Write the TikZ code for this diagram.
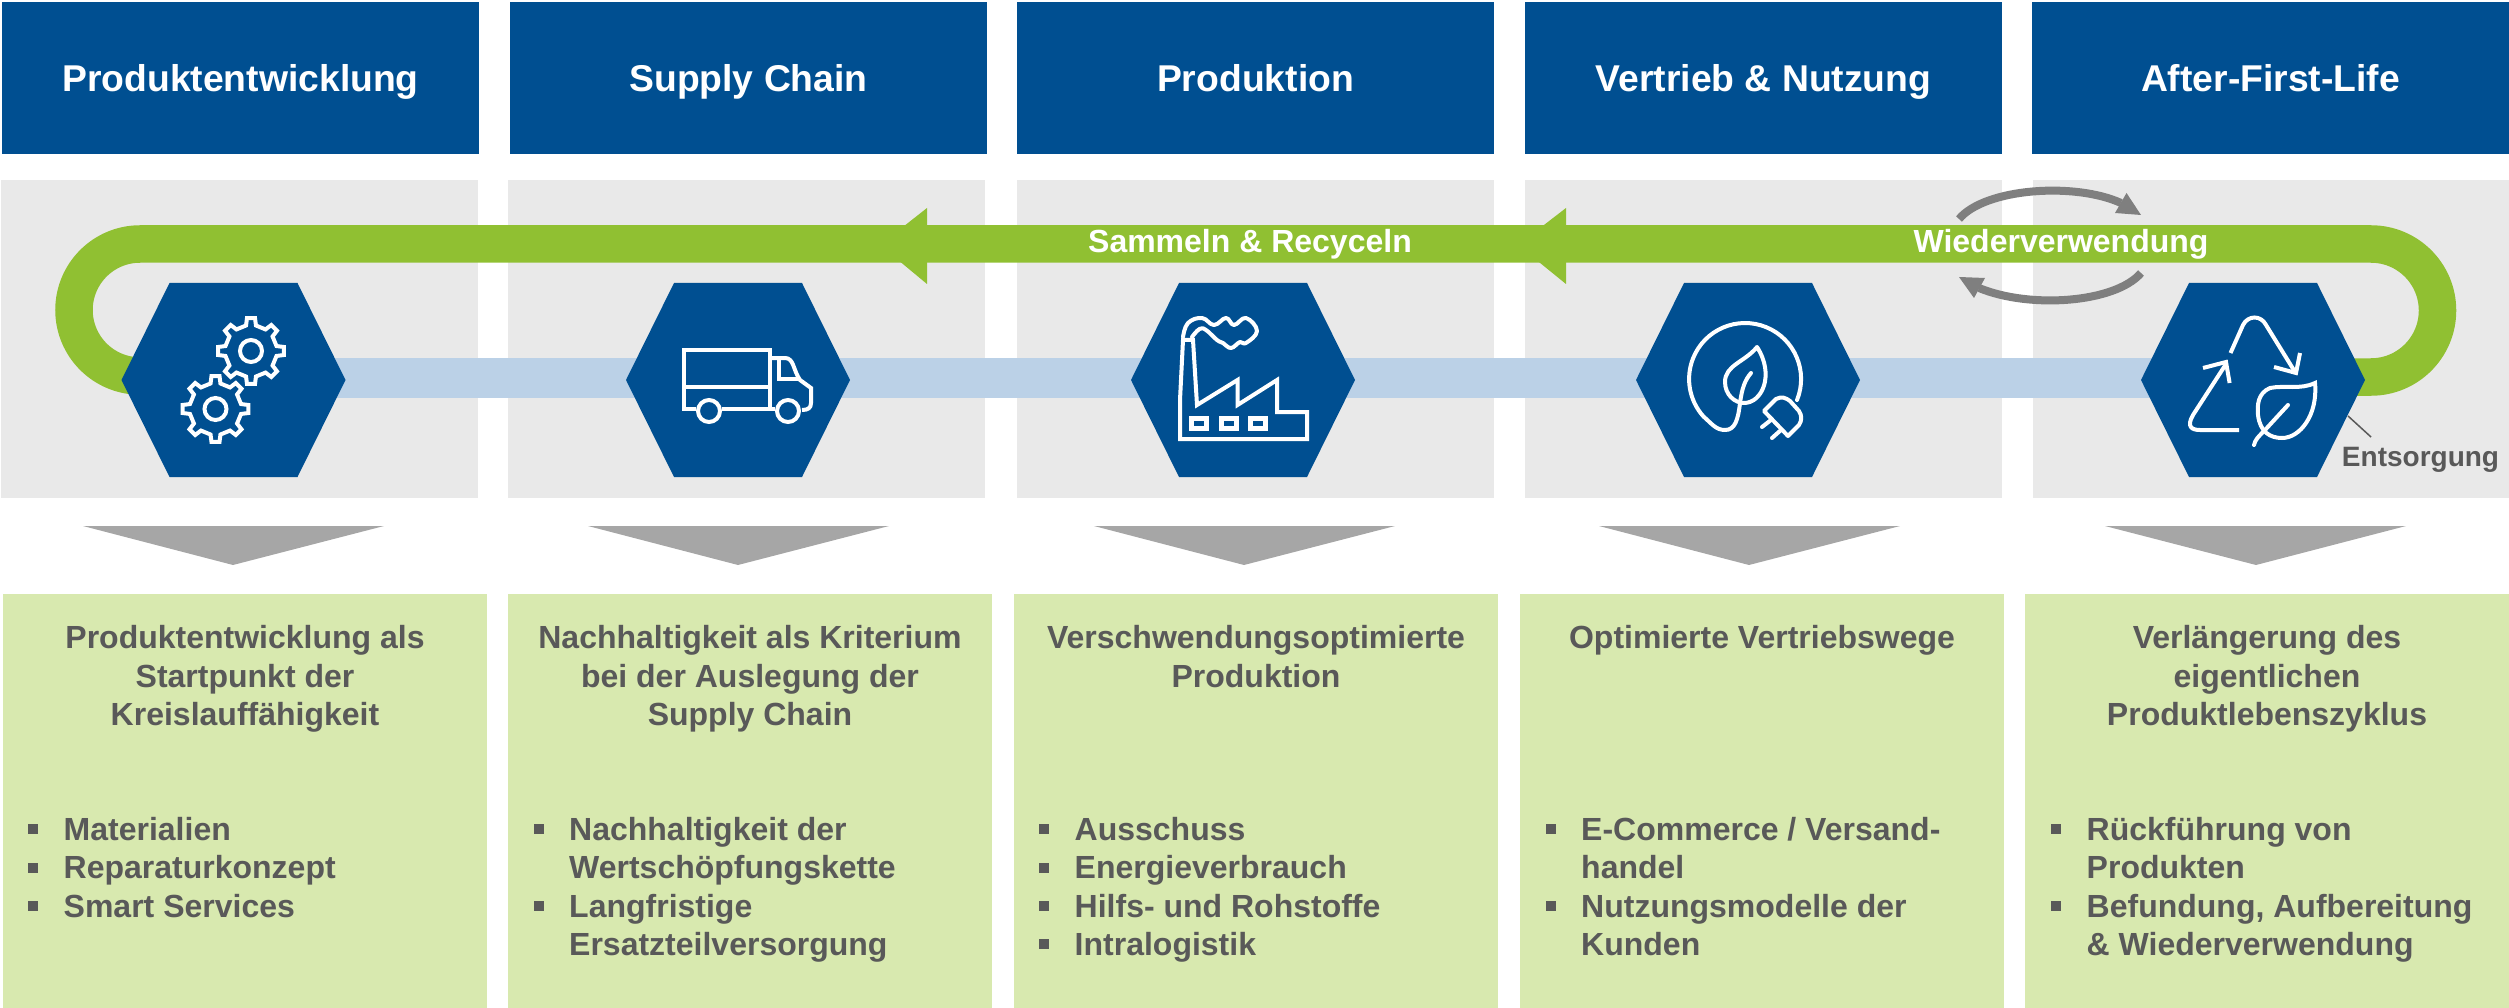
\documentclass[tikz,border=0pt]{standalone}
\usepackage{fontspec}
\setmainfont{Liberation Sans}
\usetikzlibrary{calc}
\definecolor{hblue}{HTML}{004F91}
\definecolor{hgreen}{HTML}{90C032}
\definecolor{lblue}{HTML}{BBD1E7}
\definecolor{pgrey}{HTML}{E9E9E9}
\definecolor{pgreen}{HTML}{D8E9AF}
\definecolor{dgrey}{HTML}{A6A6A6}
\definecolor{rgrey}{HTML}{7F7F7F}
\definecolor{txtgrey}{HTML}{595959}
\tikzset{
  headbox/.style={fill=hblue,text=white,inner sep=0pt,minimum width=477pt,minimum height=152pt,
    text height=28pt,text depth=0pt,font=\fontsize{37.3}{44}\selectfont\bfseries},
  panelbox/.style={fill=pgrey,inner sep=0pt},
  textbox/.style={fill=pgreen,inner sep=0pt},
  hexfill/.style={fill=hblue},
  downarrow/.style={fill=dgrey},
  headline/.style={inner sep=0pt,anchor=north,align=center,text=txtgrey,
    font=\fontsize{32}{38.4}\selectfont\bfseries},
  listtext/.style={inner sep=0pt,anchor=north west,align=left,text=txtgrey,
    font=\fontsize{32}{38.4}\selectfont\bfseries},
  bandlabel/.style={inner sep=0pt,text=white,font=\fontsize{32}{38}\selectfont\bfseries},
  iconline/.style={draw=white,line width=4pt,line join=miter},
  roundicon/.style={draw=white,line width=4pt,line join=round,line cap=round},
  rotshaft/.style={draw=rgrey,line width=8pt},
  rothead/.style={fill=rgrey},
}
\newcommand{\fl}{\leavevmode\rule{0pt}{30pt}}
\newcommand{\bul}{\leavevmode\rule{0pt}{30pt}\llap{\textcolor{txtgrey}{\rule[6pt]{10pt}{10pt}}\hspace{25.5pt}}}
\newcommand{\gearicon}[2]{%
  \begin{scope}[shift={(#1,#2)}]
    \draw[iconline] (0,0) circle[radius=11];
    \draw[iconline] (-11:26) \foreach \a in {0,45,...,315} { -- (\a-11:26) -- (\a-7:33) -- (\a+7:33) -- (\a+11:26) } -- cycle;
  \end{scope}}
\newcommand{\hexagon}[1]{%
  \fill[hexfill] ($(#1)+(-112,0)$) -- ($(#1)+(-64,-97)$) -- ($(#1)+(64,-97)$) -- ($(#1)+(112,0)$) -- ($(#1)+(64,97)$) -- ($(#1)+(-64,97)$) -- cycle;}
\newcommand{\downtri}[3]{\fill[downarrow] (#1,526) -- (#2,526) -- (#3,565) -- cycle;}
\begin{document}
\begin{tikzpicture}[x=1pt,y=-1pt]
\useasboundingbox (0,0) rectangle (2509,1008);
% headers
\node[headbox] (t1) at (240.5,78) {Produktentwicklung};
\node[headbox] (t2) at (748.5,78) {Supply Chain};
\node[headbox] (t3) at (1255.5,78) {Produktion};
\node[headbox] (t4) at (1763.5,78) {Vertrieb \& Nutzung};
\node[headbox] (t5) at (2270.5,78) {After-First-Life};
% grey panels
\fill[panelbox] (1,180) rectangle (478,498);
\fill[panelbox] (508,180) rectangle (985,498);
\fill[panelbox] (1017,180) rectangle (1494,498);
\fill[panelbox] (1525,180) rectangle (2002,498);
\fill[panelbox] (2033,180) rectangle (2509,498);
% hex centres
\coordinate (h1) at (233.5,380);
\coordinate (h2) at (738,380);
\coordinate (h3) at (1243,380);
\coordinate (h4) at (1748,380);
\coordinate (h5) at (2253,380);
% blue band
\coordinate (ba) at (233.5,378);
\coordinate (bb) at (2253,378);
\draw[lblue,line width=40pt] (ba) -- (bb);
% green loop
\coordinate (gs) at (233.5,376);
\coordinate (ge) at (2253,377);
\draw[hgreen,line width=37.5pt] (gs) -- (140,376) arc[start angle=90,end angle=270,radius=66] -- (2371,244) arc[start angle=270,end angle=450,radius=66.5] -- (ge);
\fill[hgreen] (927,208) -- (927,284) -- (880,245) -- cycle;
\fill[hgreen] (1566,208) -- (1566,284) -- (1518,245) -- cycle;
\node[bandlabel] (sr) at (1250,244) {Sammeln \& Recyceln};
\node[bandlabel] (ww) at (2061,244) {Wiederverwendung};
% rotation arrows
\draw[rotshaft] (1959,219) .. controls (1985,188) and (2075,182) .. (2121,203);
\fill[rothead] (2141,215) -- (2126.5,193) -- (2115,213) -- cycle;
\draw[rotshaft] (2141,273) .. controls (2115,303) and (2030,309) .. (1979,288);
\fill[rothead] (1959,277) -- (1985,278) -- (1974,298) -- cycle;
% hexagons
\hexagon{h1}\hexagon{h2}\hexagon{h3}\hexagon{h4}\hexagon{h5}
% gears
\gearicon{251}{351}
\gearicon{215.5}{409}
% truck
\draw[iconline] (696,409) -- (684,409) -- (684,350) -- (770,350) -- (770,409);
\draw[iconline] (684,387) -- (770,387);
\draw[iconline] (722,409) -- (775,409);
\draw[iconline] (709,411) circle[radius=11];
\draw[iconline] (788,411) circle[radius=11];
\draw[iconline] (770,358) -- (785,358) .. controls (794,358) and (793,370) .. (800,380) -- (811,388) -- (811,403) .. controls (811,408) and (808,410) .. (802,410);
\draw[iconline] (779,358) -- (779,379) -- (798,379);
% factory
\draw[iconline] (1180,439) -- (1307,439) -- (1307,412) -- (1277,412) -- (1277,380) -- (1237.5,405) -- (1237.5,380) -- (1197,405) -- (1193,340) -- (1183,340) -- (1180,400) -- cycle;
\draw[draw=white,line width=5pt] (1191,418) rectangle (1206,428);
\draw[draw=white,line width=5pt] (1221,418) rectangle (1236,428);
\draw[draw=white,line width=5pt] (1250.5,418) rectangle (1265.5,428);
\draw[roundicon] plot[smooth,tension=0.7] coordinates {(1183,337) (1188,323) (1202,318) (1214,325) (1226,318) (1234,325) (1246,318) (1257,331) (1246,343) (1240,342) (1231,348) (1223,343) (1217,340) (1206,330) (1199.5,329) (1192,337)};
% plug leaf
\draw[roundicon] (1797,400) arc[start angle=22,end angle=-222,radius=56] .. controls (1712,424) and (1716,430) .. (1725,430) .. controls (1735,430) and (1738,420) .. (1740,403) .. controls (1742,388) and (1745,380) .. (1751,373);
\draw[roundicon] (1757,347) .. controls (1745,362) and (1725,365) .. (1725,382) .. controls (1725,395) and (1735,403) .. (1744,403) .. controls (1762,403) and (1775,375) .. (1757,347) -- cycle;
\draw[roundicon] (1764,411) -- (1776,399) .. controls (1782,396) and (1786,398) .. (1790,401) -- (1799,411) .. controls (1802,416) and (1802,420) .. (1799,425) -- (1788,436) -- cycle;
\draw[roundicon] (1771,420) -- (1762,427);
\draw[roundicon] (1781,430) -- (1772,438);
% recycle leaf
\draw[iconline] (2230.5,353) -- (2243,325) .. controls (2248,315) and (2261,315) .. (2266,325) -- (2295,372);
\draw[iconline] (2300,353) -- (2296,373) -- (2274,367);
\draw[iconline] (2226,364) -- (2193,415) .. controls (2186,427) and (2192,430) .. (2200,430) -- (2239,430);
\draw[iconline] (2203,368) -- (2226,362) -- (2229.6,383);
\draw[iconline] (2315,383) .. controls (2300,390) and (2285,385) .. (2270,388) .. controls (2258,393) and (2257,405) .. (2258,415) .. controls (2260,432) and (2270,438) .. (2282,438) .. controls (2300,438) and (2318,415) .. (2315,383) -- cycle;
\draw[roundicon] (2288,405) -- (2265,430) .. controls (2258,437) and (2255,440) .. (2254,445);
% Entsorgung
\node[inner sep=0pt,text=txtgrey,font=\fontsize{28}{32}\selectfont\bfseries] (ent) at (2420.5,460) {Entsorgung};
\coordinate (ea) at (2348,416);
\coordinate (eb) at (2371,437);
\draw[txtgrey,line width=1.5pt] (ea) -- (eb);
% down arrows
\downtri{83}{384}{233}
\downtri{588}{889}{738}
\downtri{1094}{1395}{1244}
\downtri{1599}{1900}{1749}
\downtri{2105}{2406}{2256}
% green text panels
\fill[textbox] (3,594) rectangle (487,1008);
\fill[textbox] (508,594) rectangle (992,1008);
\fill[textbox] (1014,594) rectangle (1498,1008);
\fill[textbox] (1520,594) rectangle (2004,1008);
\fill[textbox] (2025,594) rectangle (2509,1008);
% headings
\node[headline] (a1) at (245,618.5) {\fl Produktentwicklung als\\Startpunkt der\\Kreislauffähigkeit};
\node[headline] (a2) at (750,618.5) {\fl Nachhaltigkeit als Kriterium\\bei der Auslegung der\\Supply Chain};
\node[headline] (a3) at (1256,618.5) {\fl Verschwendungsoptimierte\\Produktion};
\node[headline] (a4) at (1762,618.5) {\fl Optimierte Vertriebswege};
\node[headline] (a5) at (2267,618.5) {\fl Verlängerung des\\eigentlichen\\Produktlebenszyklus};
% lists
\node[listtext] (b1) at (63.5,810) {\bul Materialien\\\bul Reparaturkonzept\\\bul Smart Services};
\node[listtext] (b2) at (569,810) {\bul Nachhaltigkeit der\\Wertschöpfungskette\\\bul Langfristige\\Ersatzteilversorgung};
\node[listtext] (b3) at (1074.5,810) {\bul Ausschuss\\\bul Energieverbrauch\\\bul Hilfs- und Rohstoffe\\\bul Intralogistik};
\node[listtext] (b4) at (1581,810) {\bul E-Commerce / Versand-\\handel\\\bul Nutzungsmodelle der\\Kunden};
\node[listtext] (b5) at (2086.5,810) {\bul Rückführung von\\Produkten\\\bul Befundung, Aufbereitung\\\& Wiederverwendung};
\end{tikzpicture}
\end{document}
